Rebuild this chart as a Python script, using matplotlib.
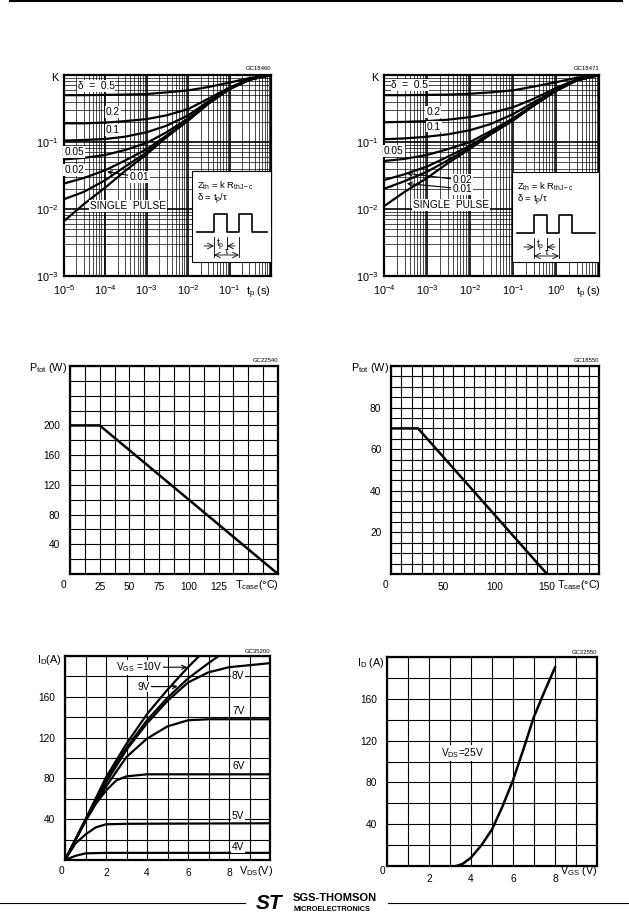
import numpy as np
import matplotlib
matplotlib.use("Agg")
import matplotlib.pyplot as plt
from matplotlib.patches import Rectangle
from matplotlib.ticker import LogLocator, NullFormatter

plt.rcParams['font.family'] = ['Liberation Sans', 'DejaVu Sans']
plt.rcParams['mathtext.fontset'] = 'custom'
plt.rcParams['mathtext.rm'] = 'Liberation Sans'
plt.rcParams['mathtext.it'] = 'Liberation Sans:italic'
plt.rcParams['mathtext.bf'] = 'Liberation Sans:bold'

W, H = 629, 921

# thermal impedance, left (tp 1e-5 .. 1 s)
tp_a = [1e-5, 3e-5, 1e-4, 3e-4, 1e-3, 3e-3, 1e-2, 3e-2, 1e-1, 3e-1, 1.0]
ka_05 = [0.50, 0.50, 0.505, 0.51, 0.52, 0.55, 0.59, 0.66, 0.77, 0.90, 1.0]
ka_02 = [0.19, 0.19, 0.195, 0.205, 0.22, 0.25, 0.31, 0.44, 0.65, 0.87, 1.0]
ka_01 = [0.105, 0.107, 0.111, 0.12, 0.14, 0.175, 0.25, 0.40, 0.63, 0.86, 1.0]
ka_005 = [0.055, 0.058, 0.064, 0.076, 0.097, 0.14, 0.225, 0.38, 0.62, 0.85, 1.0]
ka_002 = [0.024, 0.029, 0.038, 0.053, 0.078, 0.125, 0.215, 0.37, 0.62, 0.85, 1.0]
ka_001 = [0.014, 0.018, 0.027, 0.043, 0.070, 0.12, 0.21, 0.37, 0.62, 0.85, 1.0]
ka_sp = [0.0066, 0.0118, 0.021, 0.037, 0.066, 0.118, 0.21, 0.37, 0.62, 0.85, 1.0]

# thermal impedance, right (tp 1e-4 .. 10 s)
tp_b = [1e-4, 3e-4, 1e-3, 3e-3, 1e-2, 3e-2, 1e-1, 3e-1, 1.0, 3.0, 10.0]
kb_05 = [0.50, 0.50, 0.505, 0.51, 0.525, 0.55, 0.59, 0.67, 0.78, 0.91, 1.0]
kb_02 = [0.197, 0.20, 0.205, 0.215, 0.235, 0.27, 0.33, 0.44, 0.64, 0.86, 1.0]
kb_01 = [0.11, 0.113, 0.12, 0.13, 0.15, 0.185, 0.26, 0.39, 0.60, 0.84, 1.0]
kb_005 = [0.052, 0.056, 0.064, 0.078, 0.10, 0.145, 0.225, 0.36, 0.59, 0.83, 1.0]
kb_002 = [0.027, 0.033, 0.043, 0.060, 0.088, 0.135, 0.215, 0.35, 0.58, 0.83, 1.0]
kb_001 = [0.020, 0.026, 0.036, 0.053, 0.082, 0.13, 0.21, 0.35, 0.58, 0.83, 1.0]
kb_sp = [0.011, 0.018, 0.029, 0.048, 0.079, 0.13, 0.21, 0.35, 0.58, 0.83, 1.0]

# power derating
tcase_a = [0, 25, 175]
ptot_a = [200, 200, 0]
tcase_b = [0, 26, 150]
ptot_b = [70, 70, 0]

# output characteristics
vds_10 = [0, 1, 2, 3, 4, 5, 6, 6.55]
id_10 = [0, 40, 81, 114, 143, 167, 189, 200]
vds_9 = [0, 1, 2, 3, 4, 5, 6, 7, 7.5]
id_9 = [0, 39, 78, 110, 137, 159, 178, 193, 200]
vds_8 = [0, 1, 2, 3, 4, 5, 6, 7, 8, 9, 10]
id_8 = [0, 39, 76, 108, 134, 156, 174, 184, 189, 191, 193]
vds_7 = [0, 1, 2, 3, 4, 5, 6, 7, 10]
id_7 = [0, 39, 72, 101, 119, 131, 137, 138, 138]
vds_6 = [0, 1, 1.5, 2, 2.5, 3, 4, 10]
id_6 = [0, 38, 55, 68, 78, 82, 84, 84]
vds_5 = [0, 0.5, 1, 1.5, 2, 3, 10]
id_5 = [0, 16, 25, 32, 35, 35.5, 36]
vds_4 = [0, 0.5, 1, 2, 10]
id_4 = [0, 4, 6.5, 7, 7]

# transfer characteristic
vgs_t = [3.3, 3.6, 4, 4.5, 5, 5.5, 6, 6.5, 7, 7.5, 8]
id_t = [0, 2, 8, 20, 35, 57, 82, 112, 143, 167, 190]

fig = plt.figure(figsize=(W / 100, H / 100), dpi=100)


def ax_px(l, t, r, b):
    return fig.add_axes([l / W, 1 - b / H, (r - l) / W, (b - t) / H])


def frame(ax, size):
    for s in ax.spines.values():
        s.set_linewidth(1.6)
    ax.tick_params(which='both', length=0, labelsize=size)


def log_panel(ax, e0, e1):
    ax.set_xscale('log')
    ax.set_yscale('log')
    ax.set_xlim(10.0 ** e0, 10.0 ** e1)
    ax.set_ylim(1e-3, 1)
    for a in (ax.xaxis, ax.yaxis):
        a.set_minor_locator(LogLocator(base=10, subs=np.arange(2, 10)))
        a.set_minor_formatter(NullFormatter())
    ax.grid(True, which='major', color='k', lw=1.2)
    ax.grid(True, which='minor', color='k', lw=0.5)
    xt = [10.0 ** e for e in range(e0, e1 + 1)]
    ax.set_xticks(xt)
    ax.set_xticklabels([r'$\mathregular{10^{%d}}$' % e for e in range(e0, e1)] + [''])
    ax.set_yticks([1e-3, 1e-2, 1e-1, 1])
    ax.set_yticklabels([r'$\mathregular{10^{-3}}$', r'$\mathregular{10^{-2}}$',
                        r'$\mathregular{10^{-1}}$', ''])
    frame(ax, 7.8)
    ax.tick_params(axis='x', pad=5)
    ax.tick_params(axis='y', pad=4)


def lin_panel(ax, xmax, ymax, xstep, ystep, xlab, ylab):
    ax.set_xlim(0, xmax)
    ax.set_ylim(0, ymax)
    xs = np.arange(0, xmax + 1e-9, xstep)
    ys = np.arange(0, ymax + 1e-9, ystep)
    ax.set_xticks(xs)
    ax.set_yticks(ys)
    ax.set_xticklabels([('%g' % v) if v in xlab else '' for v in xs])
    ax.set_yticklabels([('%g' % v) if v in ylab else '' for v in ys])
    ax.grid(True, color='k', lw=0.8)
    frame(ax, 7.3)
    ax.tick_params(axis='x', pad=6)
    ax.tick_params(axis='y', pad=7)


lab = dict(fontsize=7.3, bbox=dict(fc='white', ec='none', pad=0.6), zorder=5)
arr = dict(arrowstyle='->', lw=0.8, color='k', shrinkA=0, shrinkB=0)

# ---- top left
a1 = ax_px(64, 75, 271, 276)
log_panel(a1, -5, 0)
for k in [ka_05, ka_02, ka_01, ka_005, ka_002, ka_001, ka_sp]:
    a1.plot(tp_a, k, color='k', lw=1.6, zorder=3)
a1.text(6.0e-5, 0.69, 'δ  =  0.5', ha='center', va='center', **lab)
a1.text(1.5e-4, 0.28, '0.2', ha='center', va='center', **lab)
a1.text(1.5e-4, 0.15, '0.1', ha='center', va='center', **lab)
a1.text(1.75e-5, 0.071, '0.05', ha='center', va='center', **lab)
a1.text(1.75e-5, 0.038, '0.02', ha='center', va='center', **lab)
a1.annotate('0.01', xy=(1.1e-4, 0.036), xytext=(6.5e-4, 0.030), ha='center', va='center',
            fontsize=7.3, zorder=5, bbox=dict(fc='white', ec='none', pad=0.6), arrowprops=arr)
a1.text(3.5e-4, 0.011, 'SINGLE  PULSE', ha='center', va='center', **lab)

# ---- top right
a2 = ax_px(384, 75, 599, 276)
log_panel(a2, -4, 1)
for k in [kb_05, kb_02, kb_01, kb_005, kb_002, kb_001, kb_sp]:
    a2.plot(tp_b, k, color='k', lw=1.6, zorder=3)
a2.text(4.0e-4, 0.71, 'δ  =  0.5', ha='center', va='center', **lab)
a2.text(1.4e-3, 0.28, '0.2', ha='center', va='center', **lab)
a2.text(1.45e-3, 0.17, '0.1', ha='center', va='center', **lab)
a2.text(1.7e-4, 0.074, '0.05', ha='center', va='center', **lab)
for txt, yt, yp in [('0.02', 0.027, 0.034), ('0.01', 0.020, 0.024)]:
    a2.annotate(txt, xy=(3.4e-4, yp), xytext=(6.5e-3, yt), ha='center', va='center',
                fontsize=7.3, zorder=5, bbox=dict(fc='white', ec='none', pad=0.6),
                arrowprops=arr)
a2.text(3.6e-3, 0.0115, 'SINGLE  PULSE', ha='center', va='center', **lab)

# ---- middle left
a3 = ax_px(70, 366, 278, 574)
lin_panel(a3, 175, 280, 12.5, 20, [25, 50, 75, 100, 125], [40, 80, 120, 160, 200])
a3.plot(tcase_a, ptot_a, color='k', lw=1.8, zorder=3)

# ---- middle right
a4 = ax_px(391, 366, 599, 574)
lin_panel(a4, 200, 100, 10, 5, [50, 100, 150], [20, 40, 60, 80])
a4.plot(tcase_b, ptot_b, color='k', lw=1.8, zorder=3)

# ---- bottom left
a5 = ax_px(65, 656, 270, 860)
lin_panel(a5, 10, 200, 1, 20, [2, 4, 6, 8], [40, 80, 120, 160])
for x, y in [(vds_10, id_10), (vds_9, id_9), (vds_8, id_8), (vds_7, id_7),
             (vds_6, id_6), (vds_5, id_5), (vds_4, id_4)]:
    a5.plot(x, y, color='k', lw=1.6, zorder=3)
a5.annotate(r'$\mathregular{V_{GS}}$ =10V', xy=(5.95, 189), xytext=(3.6, 189), ha='center',
            va='center', fontsize=7.3, zorder=5, bbox=dict(fc='white', ec='none', pad=0.6),
            arrowprops=arr)
a5.annotate('9V', xy=(5.5, 170), xytext=(3.85, 170), ha='center', va='center', fontsize=7.3,
            zorder=5, bbox=dict(fc='white', ec='none', pad=0.6), arrowprops=arr)
for txt, y in [('8V', 180), ('7V', 146), ('6V', 92), ('5V', 43), ('4V', 13)]:
    a5.text(8.45, y, txt, ha='center', va='center', **lab)

# ---- bottom right
a6 = ax_px(387, 657, 597, 866)
lin_panel(a6, 10, 200, 1, 20, [2, 4, 6, 8], [40, 80, 120, 160])
a6.plot(vgs_t, id_t, color='k', lw=1.8, zorder=3)
a6.text(3.6, 108, r'$\mathregular{V_{DS}}$=25V', ha='center', va='center', **lab)

# ---- page overlay (labels, insets, header, footer) in pixel coords
ov = fig.add_axes([0, 0, 1, 1], zorder=10)
ov.set_xlim(0, W)
ov.set_ylim(H, 0)
ov.axis('off')
ov.patch.set_alpha(0)

ov.plot([10, 622], [1.5, 1.5], color='k', lw=1.5)
ov.plot([0, 245], [903, 903], color='k', lw=0.8)
ov.plot([388, 629], [903, 903], color='k', lw=0.8)
ov.text(269, 903, 'ST', fontsize=15, fontweight='heavy', style='italic', ha='center', va='center')
ov.text(293, 898, 'SGS-THOMSON', fontsize=8, fontweight='bold', ha='left', va='center')
ov.text(293, 909, 'MICROELECTRONICS', fontsize=5.3, fontweight='bold', ha='left', va='center')

for x, y, s in [(271, 69, 'GC18460'), (599, 69, 'GC18471'), (278, 360, 'GC22540'),
                (599, 360, 'GC18550'), (270, 651, 'GC35200'), (597, 652, 'GC22550')]:
    ov.text(x, y, s, fontsize=4.3, ha='right', va='center')

ov.text(55, 78, 'K', fontsize=7.8, ha='center', va='center')
ov.text(375, 78, 'K', fontsize=7.8, ha='center', va='center')
ov.text(271, 293, r'$\mathregular{t_p}$ (s)', fontsize=7.8, ha='right', va='center')
ov.text(601, 293, r'$\mathregular{t_p}$ (s)', fontsize=7.8, ha='right', va='center')

ov.text(67, 368, r'$\mathregular{P_{tot}}$ (W)', fontsize=7.8, ha='right', va='center')
ov.text(389, 368, r'$\mathregular{P_{tot}}$ (W)', fontsize=7.8, ha='right', va='center')
ov.text(279, 585, r'$\mathregular{T_{case}}$(°C)', fontsize=7.8, ha='right', va='center')
ov.text(601, 585, r'$\mathregular{T_{case}}$(°C)', fontsize=7.8, ha='right', va='center')
ov.text(63, 585, '0', fontsize=7.3, ha='center', va='center')
ov.text(385, 585, '0', fontsize=7.3, ha='center', va='center')

ov.text(62, 660, r'$\mathregular{I_D}$(A)', fontsize=7.8, ha='right', va='center')
ov.text(385, 663, r'$\mathregular{I_D}$ (A)', fontsize=7.8, ha='right', va='center')
ov.text(273, 871, r'$\mathregular{V_{DS}}$(V)', fontsize=7.8, ha='right', va='center')
ov.text(598, 871, r'$\mathregular{V_{GS}}$ (V)', fontsize=7.8, ha='right', va='center')
ov.text(61, 871, '0', fontsize=7.3, ha='center', va='center')
ov.text(382, 871, '0', fontsize=7.3, ha='center', va='center')


def inset(x0, y0, x1, y1):
    ov.add_patch(Rectangle((x0, y0), x1 - x0, y1 - y0, fc='white', ec='k', lw=0.8))
    ov.text(x0 + 5, y0 + 15, r'$\mathregular{Z_{th}}$ = k $\mathregular{R_{thJ-c}}$',
            fontsize=6.8, ha='left', va='center')
    ov.text(x0 + 5, y0 + 28, r'δ = $\mathregular{t_p}$/τ', fontsize=6.8, ha='left', va='center')
    base, top = y0 + 61, y0 + 43
    p1, p2, p3, p4 = x0 + 22, x0 + 35, x0 + 47, x0 + 60
    ov.plot([x0 + 5, p1, p1, p2, p2, p3, p3, p4, p4, x1 - 4],
            [base, base, top, top, base, base, top, top, base, base], color='k', lw=1.2)
    ya, yb = y0 + 75, y0 + 84
    ov.plot([p1, p1], [base + 5, yb + 2], color='k', lw=0.6)
    ov.plot([p2, p2], [base + 5, ya + 3], color='k', lw=0.6)
    ov.plot([p3, p3], [base + 5, yb + 2], color='k', lw=0.6)
    ov.annotate('', xy=(p1, ya), xytext=(p1 - 10, ya),
                arrowprops=dict(arrowstyle='->', lw=0.6, color='k', shrinkA=0, shrinkB=0))
    ov.annotate('', xy=(p2, ya), xytext=(p2 + 8, ya),
                arrowprops=dict(arrowstyle='->', lw=0.6, color='k', shrinkA=0, shrinkB=0))
    ov.annotate('', xy=(p3, yb), xytext=(p1, yb),
                arrowprops=dict(arrowstyle='<->', lw=0.6, color='k', shrinkA=0, shrinkB=0))
    ov.text((p1 + p2) / 2, ya - 1, r'$\mathregular{t_p}$', fontsize=7, ha='center', va='center')
    ov.text((p1 + p3) / 2, yb - 4, 'τ', fontsize=6.5, ha='center', va='center')


inset(192, 171, 271, 262)
inset(512, 172, 599, 262)

fig.savefig('out.png', dpi=100)
